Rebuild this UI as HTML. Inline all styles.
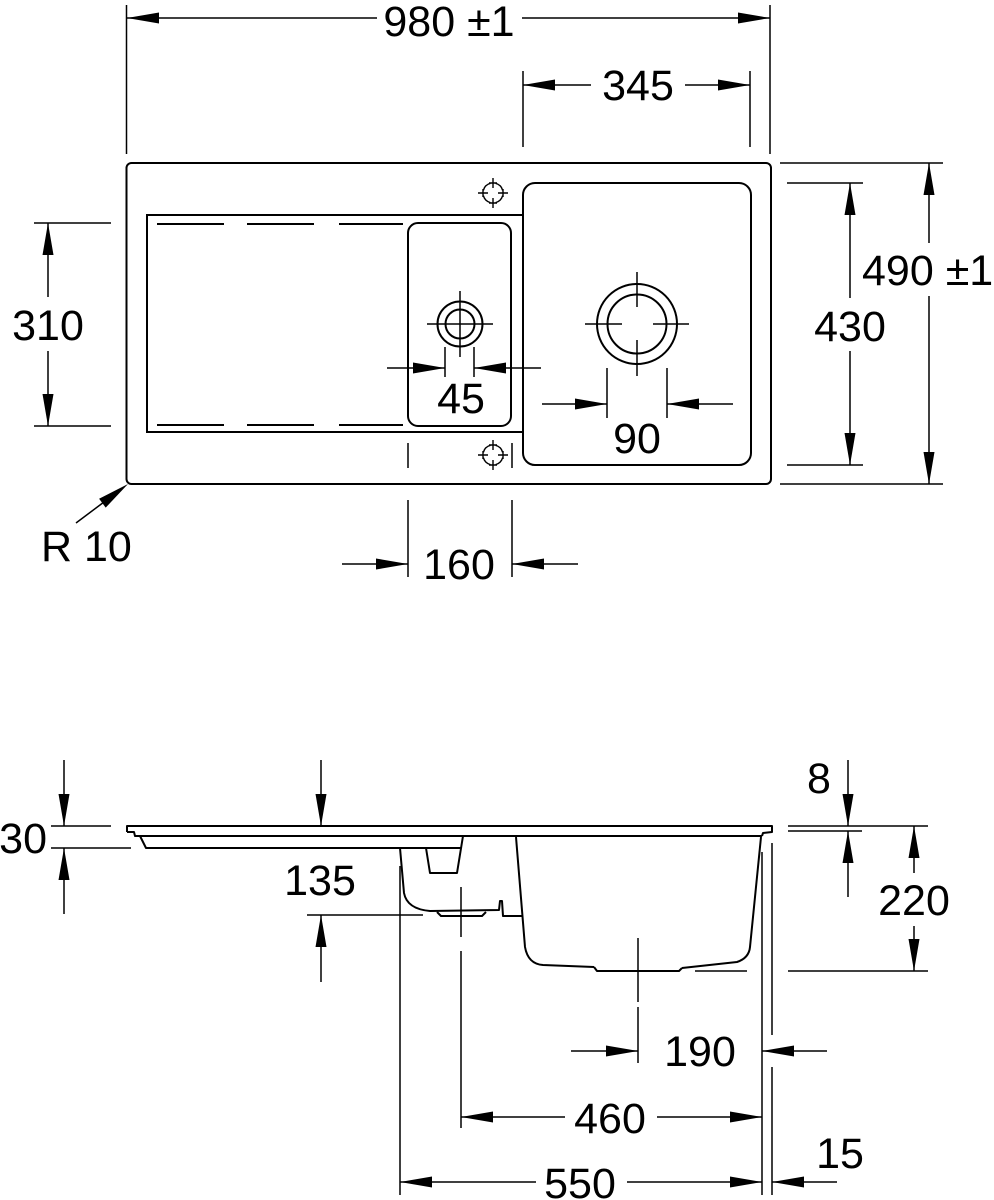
<!DOCTYPE html>
<html><head><meta charset="utf-8"><style>
html,body{margin:0;padding:0;background:#fff;}
svg{display:block;}
text{font-family:"Liberation Sans",Arial,sans-serif;font-size:43px;fill:#000;}
</style></head><body>
<svg width="994" height="1200" viewBox="0 0 994 1200" xmlns="http://www.w3.org/2000/svg">
<defs>
<g id="mnt" fill="none" stroke="#000" stroke-width="1.4">
<path d="M9.66,2.59 A10,10 0 0 1 2.59,9.66 M-2.59,9.66 A10,10 0 0 1 -9.66,2.59 M-9.66,-2.59 A10,10 0 0 1 -2.59,-9.66 M2.59,-9.66 A10,10 0 0 1 9.66,-2.59"/>
<path d="M0,-5 V-15 M-4,-10 H4 M0,5 V15 M-4,10 H4 M-5,0 H-15 M-10,-4 V4 M5,0 H15 M10,-4 V4"/>
</g>
</defs>
<rect width="994" height="1200" fill="#fff"/>

<!-- ===== TOP VIEW outlines ===== -->
<g fill="none" stroke="#000" stroke-width="2">
<rect x="126.5" y="163" width="644.5" height="321" rx="5"/>
<rect x="523" y="183" width="228" height="282" rx="12"/>
<rect x="408" y="223" width="103" height="203" rx="10"/>
<path d="M523,215 H147 V432 H523"/>
<circle cx="460" cy="324" r="22.5"/>
<circle cx="460" cy="324" r="14.5"/>
<circle cx="637" cy="324" r="40"/>
<circle cx="637" cy="324" r="29.5"/>
</g>
<g fill="none" stroke="#000" stroke-width="2">
<path d="M157,224 H224 M247,224 H314 M339,224 H403 M157,425 H224 M247,425 H314 M339,425 H403"/>
</g>
<g fill="none" stroke="#000" stroke-width="1.5">
<path d="M427,324 H493 M460,291 V357"/>
<path d="M585,324 H622 M653,324 H689 M637,272 V307 M637,340 V376"/>
</g>
<use href="#mnt" x="493" y="193"/>
<use href="#mnt" x="493" y="455"/>

<!-- ===== TOP VIEW dimensions ===== -->
<g fill="none" stroke="#000" stroke-width="1.5">
<!-- 980 -->
<path d="M126.5,5 V154 M770,5 V154 M127,18 H377 M522,18 H770"/>
<!-- 345 -->
<path d="M523,71 V147 M750,71 V147 M523,85 H591 M685,85 H750"/>
<!-- 310 -->
<path d="M34,223 H111 M34,426 H111 M48,223 V297 M48,351 V426"/>
<!-- 45 -->
<path d="M445,347 V377 M474,347 V377 M387,368 H445 M474,368 H541"/>
<!-- 90 -->
<path d="M607,368 V418 M667,368 V418 M542,404 H607 M667,404 H733"/>
<!-- 430 -->
<path d="M787,183 H863 M787,465 H863 M850,183 V298 M850,351 V465"/>
<!-- 490 -->
<path d="M780,163 H943 M780,484 H943 M929,163 V243 M929,296 V484"/>
<!-- 160 -->
<path d="M408,443 V468 M512,443 V468 M408,500 V577 M512,500 V577 M342,564 H408 M512,564 H578"/>
<!-- R10 -->
<path d="M76,523 L104,502"/>
</g>
<g fill="#000" stroke="none">
<polygon points="127,18 159,12.5 159,23.5"/>
<polygon points="770,18 738,12.5 738,23.5"/>
<polygon points="523,85 555,79.5 555,90.5"/>
<polygon points="750,85 718,79.5 718,90.5"/>
<polygon points="48,223 42.5,255 53.5,255"/>
<polygon points="48,426 42.5,394 53.5,394"/>
<polygon points="445,368 413,362.5 413,373.5"/>
<polygon points="474,368 506,362.5 506,373.5"/>
<polygon points="607,404 575,398.5 575,409.5"/>
<polygon points="667,404 699,398.5 699,409.5"/>
<polygon points="850,183 844.5,215 855.5,215"/>
<polygon points="850,465 844.5,433 855.5,433"/>
<polygon points="929,163 923.5,195 934.5,195"/>
<polygon points="929,484 923.5,452 934.5,452"/>
<polygon points="408,564 376,558.5 376,569.5"/>
<polygon points="512,564 544,558.5 544,569.5"/>
<polygon points="128,484 105.7,507.6 99.1,498.8"/>
</g>
<text x="449" y="36" text-anchor="middle">980 ±1</text>
<text x="638" y="100" text-anchor="middle">345</text>
<text x="48" y="340" text-anchor="middle">310</text>
<text x="461" y="413" text-anchor="middle">45</text>
<text x="637" y="453" text-anchor="middle">90</text>
<text x="850" y="341" text-anchor="middle">430</text>
<text x="862" y="285">490 ±1</text>
<text x="459" y="579" text-anchor="middle">160</text>
<text x="41" y="561">R 10</text>

<!-- ===== SIDE VIEW profile ===== -->
<g fill="none" stroke="#000" stroke-width="2" stroke-linejoin="round">
<path d="M127,832 V826 H772 V832 L763,833 L762,836"/>
<path d="M127,832 H134 L135,836 H140 L146,848 H461"/>
<path d="M135,836 H762"/>
<path d="M426,848 L430,873 H457 L463,836"/>
<path d="M400,848 L404,893 Q407,909 430,911 L499,910 L500,901 H502 L503,916 H522"/>
<path d="M437,912 L441,916 H482 L486,912"/>
<path d="M516,837 L525,947 Q528,964 543,965 L594,967 M682,968 L737,962 Q749,958 750,947 L761,837"/>
<path d="M594,967 L597,971 H679 L682,968"/>
</g>

<!-- ===== SIDE VIEW dimensions ===== -->
<g fill="none" stroke="#000" stroke-width="1.5">
<!-- 30 -->
<path d="M64,760 V826 M64,848 V914 M51,826 H111 M51,848 H131"/>
<!-- top / 135 -->
<path d="M321,760 V826 M321,915 V982 M307,915 H423"/>
<!-- 8 / 220 -->
<path d="M788,826 H928 M788,831 H862 M848,760 V826 M848,831 V897 M914,826 V873 M914,926 V971 M788,971 H928 M695,971 H747"/>
<!-- vertical ext lines -->
<path d="M400,866 V1195 M461,887 V937 M461,951 V1128 M638,938 V1002 M638,1007 V1063 M762,852 V1195 M772,843 V1035 M772,1067 V1195"/>
<!-- 190 -->
<path d="M571,1051 H638 M762,1051 H827"/>
<!-- 460 -->
<path d="M461,1117 H565 M657,1117 H762"/>
<!-- 550 -->
<path d="M400,1182 H536 M627,1182 H762"/>
<!-- 15 -->
<path d="M772,1182 H837"/>
</g>
<g fill="#000" stroke="none">
<polygon points="64,826 58.5,794 69.5,794"/>
<polygon points="64,848 58.5,880 69.5,880"/>
<polygon points="321,826 315.5,794 326.5,794"/>
<polygon points="321,915 315.5,947 326.5,947"/>
<polygon points="848,826 842.5,794 853.5,794"/>
<polygon points="848,831 842.5,863 853.5,863"/>
<polygon points="914,826 908.5,858 919.5,858"/>
<polygon points="914,971 908.5,939 919.5,939"/>
<polygon points="638,1051 606,1045.5 606,1056.5"/>
<polygon points="762,1051 794,1045.5 794,1056.5"/>
<polygon points="461,1117 493,1111.5 493,1122.5"/>
<polygon points="762,1117 730,1111.5 730,1122.5"/>
<polygon points="400,1182 432,1176.5 432,1187.5"/>
<polygon points="762,1182 730,1176.5 730,1187.5"/>
<polygon points="772,1182 804,1176.5 804,1187.5"/>
</g>
<text x="47" y="853" text-anchor="end">30</text>
<text x="320" y="895" text-anchor="middle">135</text>
<text x="819" y="793" text-anchor="middle">8</text>
<text x="914" y="915" text-anchor="middle">220</text>
<text x="700" y="1066" text-anchor="middle">190</text>
<text x="610" y="1133" text-anchor="middle">460</text>
<text x="580" y="1198" text-anchor="middle">550</text>
<text x="840" y="1168" text-anchor="middle">15</text>
</svg>
</body></html>
